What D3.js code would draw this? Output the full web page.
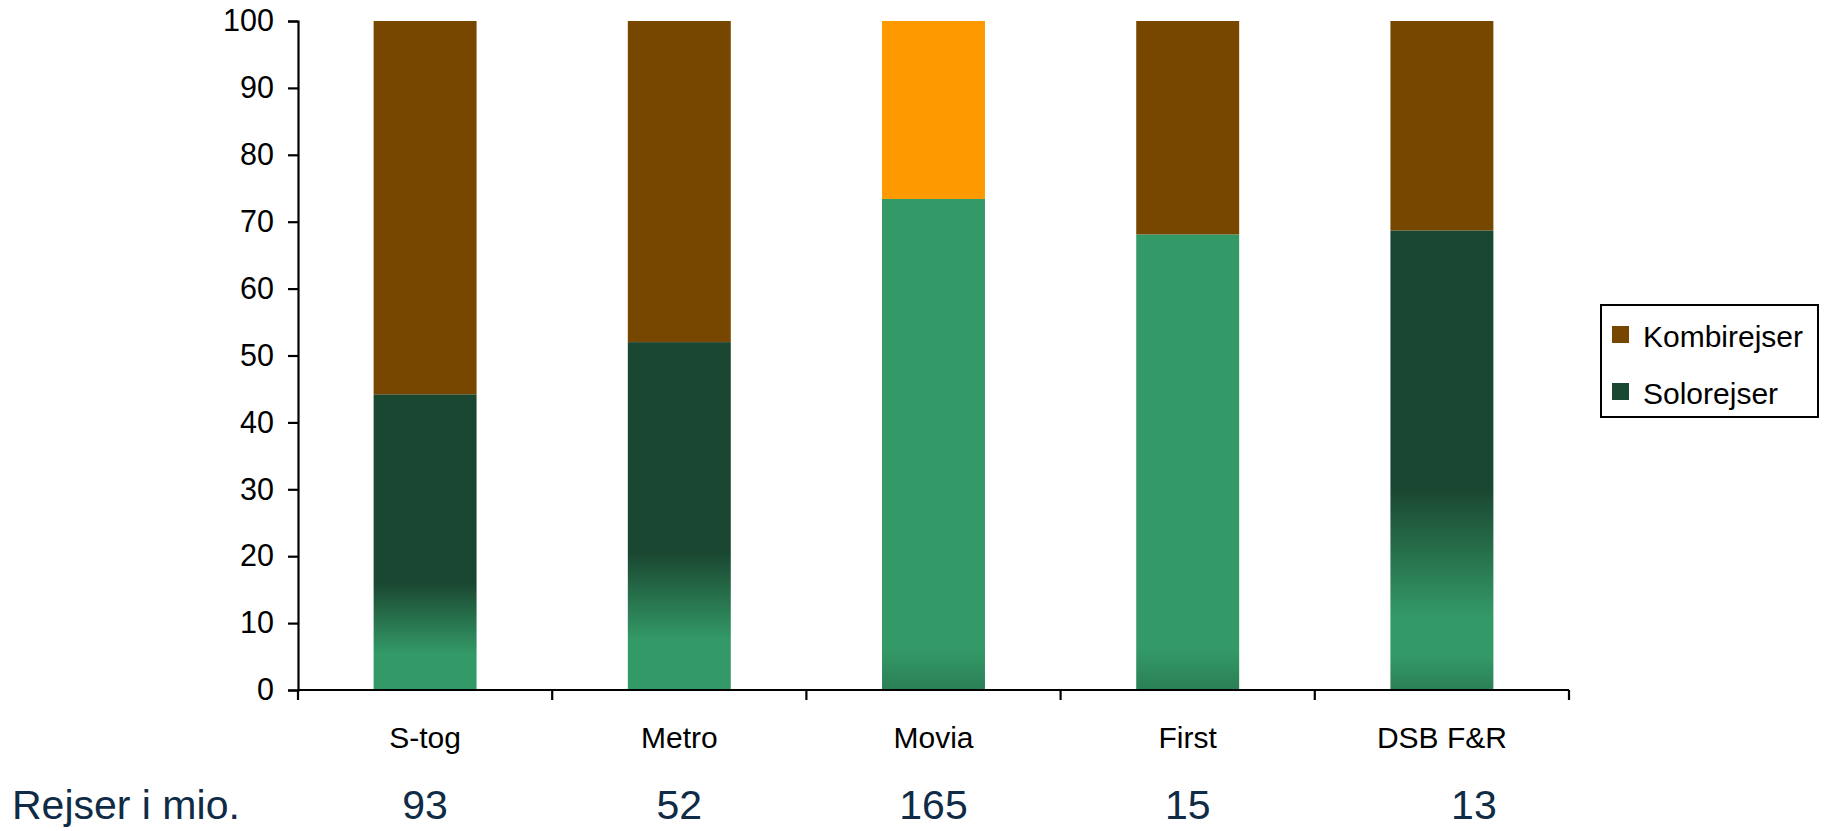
<!DOCTYPE html>
<html>
<head>
<meta charset="utf-8">
<script src="https://cdn.jsdelivr.net/npm/d3@7"></script>
<style>
  html, body { margin: 0; padding: 0; background: #fff; }
  svg { display: block; font-family: Arial, 'Liberation Sans', sans-serif; }
</style>
</head>
<body>
<div id="chart"></div>
<script>
// Data
const categories = ['S-tog', 'Metro', 'Movia', 'First', 'DSB F&R'];
const soloValues = [44.2, 52.0, 73.4, 68.1, 68.7];
const kombiValues = [55.8, 48.0, 26.6, 31.9, 31.3];
const tripsMio = [93, 52, 165, 15, 13];
const seriesNames = ['Solorejser', 'Kombirejser'];

// Styles
const DARK = '#1a4731', LIGHT = '#339966', LIGHT_DEEP = '#2b7f55';
const BROWN = '#774700', ORANGE = '#ff9900';
const kombiColor = { 'Movia': ORANGE };
// gradient stops for the solo part, as [value, colour] going down the bar
const soloFade = {
  'S-tog':   [[100, DARK], [16, DARK], [5.5, LIGHT], [0, LIGHT]],
  'Metro':   [[100, DARK], [20.5, DARK], [7.5, LIGHT], [0, LIGHT]],
  'Movia':   [[100, LIGHT], [6, LIGHT], [0, LIGHT_DEEP]],
  'First':   [[100, LIGHT], [6, LIGHT], [0, LIGHT_DEEP]],
  'DSB F&R': [[100, DARK], [30, DARK], [11, LIGHT], [5, LIGHT], [0, LIGHT_DEEP]]
};
// the last trips figure sits a little right of its bar in the original
const tripsDx = [0, 0, 0, 0, 32];

const W = 1825, H = 831;
const plot = { left: 298, right: 1569, top: 21, bottom: 690 };

const svg = d3.select('#chart').append('svg').attr('width', W).attr('height', H);
const defs = svg.append('defs');

const x = d3.scaleBand().domain(categories)
     .range([plot.left, plot.right])
     .paddingInner(0.595).paddingOuter(0.2975);
const y = d3.scaleLinear().domain([0, 100]).range([plot.bottom, plot.top]);

const rows = categories.map((c, i) => ({ cat: c, Solorejser: soloValues[i], Kombirejser: kombiValues[i] }));
const stacked = d3.stack().keys(seriesNames)(rows);

// gradients per category (user space so stops follow the y scale)
categories.forEach((c, i) => {
     const top = y(100), bot = y(0);
     const g = defs.append('linearGradient')
          .attr('id', 'solo' + i)
          .attr('gradientUnits', 'userSpaceOnUse')
          .attr('x1', 0).attr('x2', 0).attr('y1', top).attr('y2', bot);
     soloFade[c].forEach(([v, col]) => {
          g.append('stop').attr('offset', (y(v) - top) / (bot - top)).attr('stop-color', col);
     });
});

// Bars
svg.append('g').selectAll('g')
     .data(stacked)
     .join('g')
     .selectAll('rect')
     .data(s => s.map((d, i) => ({ key: s.key, d, i })))
     .join('rect')
     .attr('x', o => x(categories[o.i]))
     .attr('width', x.bandwidth())
     .attr('y', o => y(o.d[1]))
     .attr('height', o => y(o.d[0]) - y(o.d[1]))
     .attr('fill', o => o.key === 'Solorejser'
          ? `url(#solo${o.i})`
          : (kombiColor[categories[o.i]] || BROWN));

// Y axis
const yAxis = svg.append('g')
     .attr('transform', `translate(${plot.left},0)`)
     .call(d3.axisLeft(y).tickValues(d3.range(0, 101, 10)).tickSize(10).tickPadding(14));
yAxis.select('.domain').attr('stroke', '#000').attr('stroke-width', 2.2);
yAxis.selectAll('.tick line').attr('stroke', '#000').attr('stroke-width', 2.2);
yAxis.selectAll('.tick text').attr('font-size', 30.5).attr('fill', '#000')
     .attr('font-family', "Arial, 'Liberation Sans', sans-serif");

// X axis: line + ticks between categories
const step = x.step();
const bounds = categories.map(c => x(c) - x.paddingInner() * step / 2).concat([plot.right]);
svg.append('line')
     .attr('x1', plot.left).attr('x2', plot.right)
     .attr('y1', plot.bottom).attr('y2', plot.bottom)
     .attr('stroke', '#000').attr('stroke-width', 2.2);
svg.append('g').selectAll('line')
     .data(bounds)
     .join('line')
     .attr('x1', d => d).attr('x2', d => d)
     .attr('y1', plot.bottom).attr('y2', plot.bottom + 10)
     .attr('stroke', '#000').attr('stroke-width', 2.2);

svg.append('g').selectAll('text')
     .data(categories)
     .join('text')
     .attr('x', d => x(d) + x.bandwidth() / 2)
     .attr('y', 748)
     .attr('text-anchor', 'middle')
     .attr('font-size', 30)
     .attr('fill', '#000')
     .text(d => d);

// Trips row
const NAVY = '#0f2b46';
svg.append('text')
     .attr('x', 12).attr('y', 819)
     .attr('font-size', 41).attr('fill', NAVY)
     .text('Rejser i mio.');
svg.append('g').selectAll('text')
     .data(tripsMio)
     .join('text')
     .attr('x', (d, i) => x(categories[i]) + x.bandwidth() / 2 + tripsDx[i])
     .attr('y', 819)
     .attr('text-anchor', 'middle')
     .attr('font-size', 41).attr('fill', NAVY)
     .text(d => d);

// Legend
const legend = svg.append('g').attr('transform', 'translate(1601,305)');
legend.append('rect')
     .attr('width', 217).attr('height', 112)
     .attr('fill', '#fff').attr('stroke', '#000').attr('stroke-width', 2);
const legendItems = [
     { name: 'Kombirejser', color: BROWN },
     { name: 'Solorejser', color: DARK }
];
const li = legend.selectAll('g.item')
     .data(legendItems)
     .join('g')
     .attr('class', 'item')
     .attr('transform', (d, i) => `translate(11,${21 + i * 57})`);
li.append('rect').attr('width', 17).attr('height', 17).attr('fill', d => d.color);
li.append('text')
     .attr('x', 31).attr('y', 21)
     .attr('font-size', 30).attr('fill', '#000')
     .text(d => d.name);
</script>
</body>
</html>
